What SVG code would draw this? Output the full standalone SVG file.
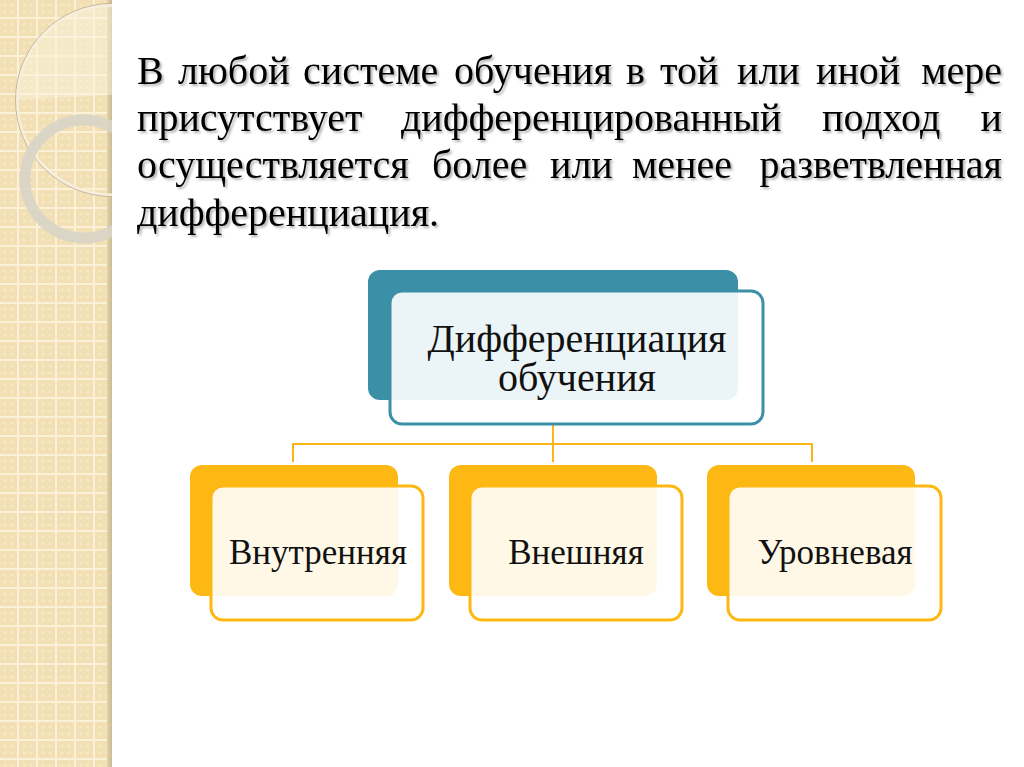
<svg xmlns="http://www.w3.org/2000/svg" width="1024" height="767" viewBox="0 0 1024 767">
<defs>
<pattern id="grid" x="0" y="0" width="19" height="19" patternUnits="userSpaceOnUse">
<rect width="19" height="19" fill="#f2e0b4"/>
<circle cx="5" cy="5" r="1.6" fill="#f7e9c6"/>
<circle cx="12" cy="5" r="1.6" fill="#f7e9c6"/>
<circle cx="5" cy="12" r="1.6" fill="#f7e9c6"/>
<circle cx="12" cy="12" r="1.6" fill="#f7e9c6"/>
<rect x="17" y="0" width="2" height="19" fill="#fbf1d8"/>
<rect x="0" y="17" width="19" height="2" fill="#fbf1d8"/>
</pattern>
<linearGradient id="edge" x1="0" x2="1" y1="0" y2="0">
<stop offset="0" stop-color="#e3d2a6"/>
<stop offset="1" stop-color="#c9bb98"/>
</linearGradient>
<clipPath id="stripClip"><rect x="0" y="0" width="112" height="767"/></clipPath>
<filter id="shadow" x="-5%" y="-20%" width="110%" height="140%">
<feDropShadow dx="2" dy="2" stdDeviation="1.2" flood-color="#000" flood-opacity="0.3"/>
</filter>
</defs>
<style>
.body{font-family:"Liberation Serif","Times New Roman",serif;font-size:40px;fill:#000}
.end{text-anchor:end}
.lbl{font-family:"Liberation Serif","Times New Roman",serif;fill:#111;text-anchor:middle}
.conn{stroke:#fbb616;stroke-width:2;fill:none}
.oback{fill:#fdb813}
.ofront{fill:#ffffff;fill-opacity:0.9;stroke:#fdb813;stroke-width:3}
</style>
<rect width="1024" height="767" fill="#ffffff"/>
<!-- left decorative strip -->
<g id="strip">
<rect x="0" y="0" width="107" height="767" fill="url(#grid)"/>
<rect x="107" y="0" width="5" height="767" fill="url(#edge)"/>
<g clip-path="url(#stripClip)">
<path d="M17,100 A95,95 0 0 1 112,5 L112,95 Z" fill="#fbf3df" fill-opacity="0.45"/>
<circle cx="112" cy="100" r="95" fill="none" stroke="#f7efdc" stroke-width="3"/>
<circle cx="112" cy="100" r="96.5" fill="none" stroke="#a89a80" stroke-width="1" stroke-opacity="0.6"/>
<circle cx="84" cy="179" r="59" fill="none" stroke="#d8d4c8" stroke-width="11" stroke-opacity="0.9"/>
</g>
</g>
<!-- paragraph -->
<g id="paragraph" class="body" filter="url(#shadow)">
<text y="84"><tspan x="137">В</tspan><tspan x="178">любой</tspan><tspan x="303">системе</tspan><tspan x="454">обучения</tspan><tspan x="626">в</tspan><tspan x="660">той</tspan><tspan x="737">или</tspan><tspan x="816">иной</tspan></text>
<text y="84" class="end" x="1002">мере</text>
<text y="131"><tspan x="137">присутствует</tspan><tspan x="401">дифференцированный</tspan><tspan x="822">подход</tspan></text>
<text y="131" class="end" x="1002">и</text>
<text y="178"><tspan x="137">осуществляется</tspan><tspan x="432">более</tspan><tspan x="550">или</tspan><tspan x="632">менее</tspan></text>
<text y="178" class="end" x="1002">разветвленная</text>
<text y="226" x="137">дифференциация.</text>
</g>
<!-- connectors -->
<g id="connectors">
<path class="conn" d="M553,424 V462"/>
<path class="conn" d="M293,462 V444 H812 V462"/>
</g>
<!-- root node -->
<g id="node-root">
<rect x="368" y="270" width="370" height="130" rx="12" fill="#3b8fa6"/>
<rect x="390" y="291" width="373" height="133" rx="12" fill="#ffffff" fill-opacity="0.9" stroke="#3b8fa6" stroke-width="3"/>
<text class="lbl" x="577" y="352" font-size="40">Дифференциация</text>
<text class="lbl" x="577" y="391" font-size="40">обучения</text>
</g>
<!-- child nodes -->
<g id="node-internal">
<rect class="oback" x="190" y="465" width="208" height="131" rx="12"/>
<rect class="ofront" x="211" y="486" width="212" height="134" rx="12"/>
<text class="lbl" x="318" y="564" font-size="35">Внутренняя</text>
</g>
<g id="node-external">
<rect class="oback" x="449" y="465" width="208" height="131" rx="12"/>
<rect class="ofront" x="470" y="486" width="212" height="134" rx="12"/>
<text class="lbl" x="576" y="564" font-size="35">Внешняя</text>
</g>
<g id="node-level">
<rect class="oback" x="707" y="465" width="208" height="131" rx="12"/>
<rect class="ofront" x="728" y="486" width="213" height="134" rx="12"/>
<text class="lbl" x="835" y="564" font-size="35">Уровневая</text>
</g>
</svg>
